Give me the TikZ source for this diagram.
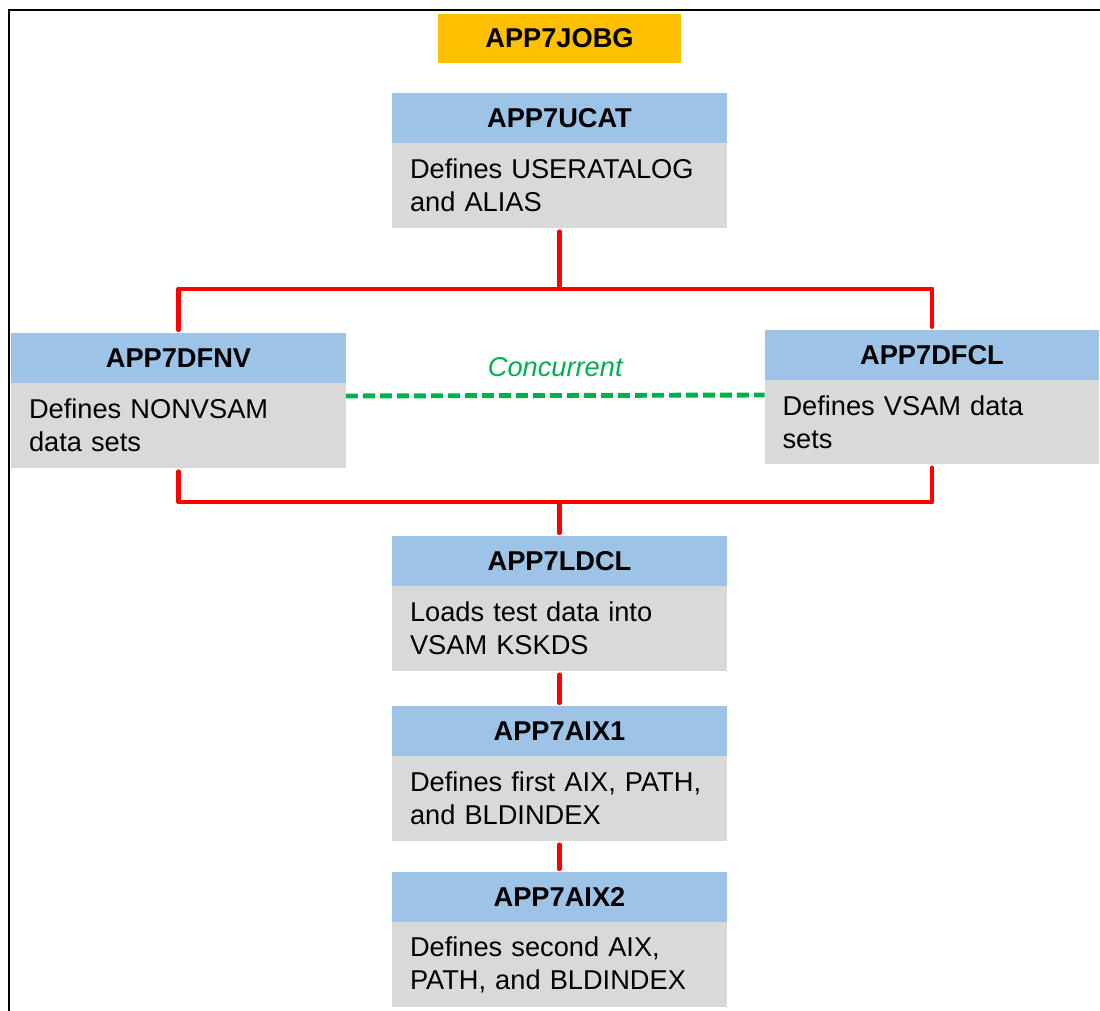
\documentclass[tikz,border=0pt]{standalone}
\usepackage{fontspec}
\setmainfont{Liberation Sans}
\usepackage{tikz}
\usetikzlibrary{positioning}
\definecolor{joborange}{HTML}{FFC000}
\definecolor{headblue}{HTML}{9DC3E6}
\definecolor{bodygrey}{HTML}{D9D9D9}
\definecolor{linkred}{HTML}{FF0000}
\definecolor{concgreen}{HTML}{00B050}
\tikzstyle{jobbox} = [fill=joborange, outer sep=0, inner sep=0, minimum width=4.86cm, minimum height=0.98cm, font=\fontsize{15.5}{18.8}\selectfont\bfseries]
\tikzstyle{stephead} = [fill=headblue, outer sep=0, inner sep=0, minimum width=6.7cm, minimum height=1cm, font=\fontsize{15.5}{18.8}\selectfont\bfseries]
\tikzstyle{stepbody} = [fill=bodygrey, outer sep=0, inner xsep=0.36cm, inner ysep=0, text width=5.98cm, minimum height=1.7cm, align=left, font=\fontsize{15.5}{18.8}\selectfont]
\tikzstyle{link} = [linkred, line width=2.3pt, line cap=round, shorten <=0.07cm, shorten >=0.06cm]
\tikzstyle{concur} = [concgreen, line width=2.8pt, dash pattern=on 0.24cm off 0.1cm]

\begin{document}
\begin{tikzpicture}[x=0.02cm, y=-0.02cm]
\useasboundingbox (0,0) rectangle (1100,1011);
\draw [line width=0.9pt] (9,1011) -- (9,10) -- (1100,10);

\node (jobg) [jobbox] at (559.5,38.5) {APP7JOBG};

\node (ucath) [stephead] at (559.5,118) {APP7UCAT};
\node (ucatb) [stepbody, below=0pt of ucath] {Defines USERATALOG\\and ALIAS};

\node (fnvh) [stephead] at (178.5,358) {APP7DFNV};
\node (fnvb) [stepbody, below=0pt of fnvh] {Defines NONVSAM\\data sets};

\node (fclh) [stephead] at (932,355) {APP7DFCL};
\node (fclb) [stepbody, below=0pt of fclh, minimum height=1.68cm] {Defines VSAM data\\sets};

\node (ldclh) [stephead] at (559.5,561) {APP7LDCL};
\node (ldclb) [stepbody, below=0pt of ldclh] {Loads test data into\\VSAM KSKDS};

\node (aix1h) [stephead] at (559.5,731) {APP7AIX1};
\node (aix1b) [stepbody, below=0pt of aix1h] {Defines first AIX, PATH,\\and BLDINDEX};

\node (aix2h) [stephead] at (559.5,897) {APP7AIX2};
\node (aix2b) [stepbody, below=0pt of aix2h] {Defines second AIX,\\PATH, and BLDINDEX};

\coordinate (split) at (559.5,289);
\coordinate (splitl) at (178.5,289);
\coordinate (splitr) at (932,289);
\coordinate (join) at (559.5,502);
\coordinate (joinl) at (178.5,502);
\coordinate (joinr) at (932,502);

\draw [link] (ucatb) -- (split);
\draw [link, shorten <=0pt, shorten >=0pt] (splitl) -- (splitr);
\draw [link, shorten <=0pt] (splitl) -- (fnvh);
\draw [link, shorten <=0pt] (splitr) -- (fclh);

\draw [link, shorten >=0pt] (fnvb) -- (joinl);
\draw [link, shorten >=0pt] (fclb) -- (joinr);
\draw [link, shorten <=0pt, shorten >=0pt] (joinl) -- (joinr);
\draw [link, shorten <=0pt] (join) -- (ldclh);

\draw [link] (ldclb) -- (aix1h);
\draw [link] (aix1b) -- (aix2h);

\draw [concur] ([yshift=-0.26cm]fnvb.north east) -- ([yshift=-0.3cm]fclb.north west)
  node [midway, above=0.2cm, concgreen, font=\fontsize{15.5}{18.8}\selectfont\itshape] {Concurrent};
\end{tikzpicture}
\end{document}
